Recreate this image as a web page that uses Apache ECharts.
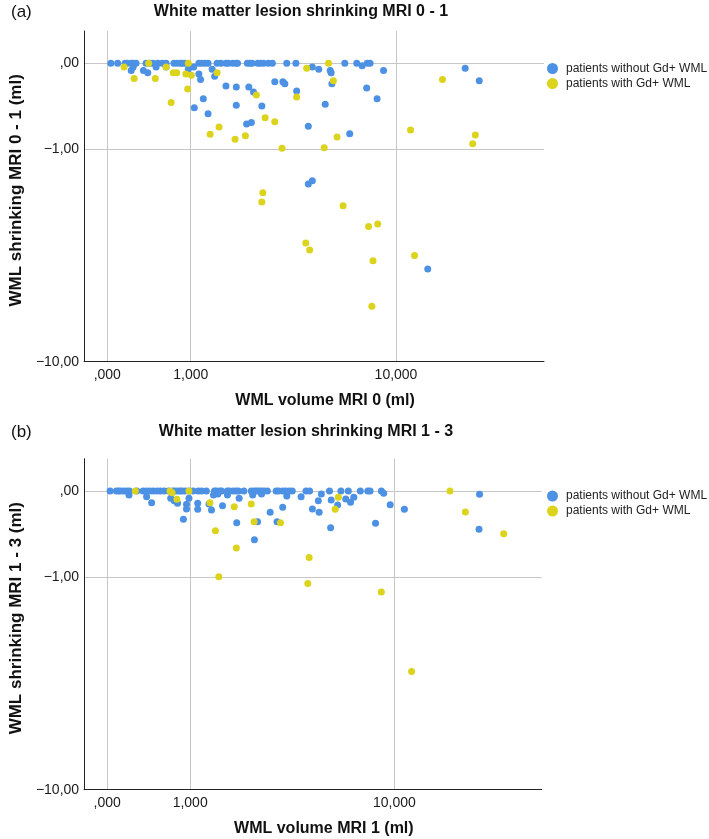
<!DOCTYPE html>
<html><head><meta charset="utf-8">
<script src="https://cdn.jsdelivr.net/npm/echarts@6/dist/echarts.min.js"></script>
<style>html,body{margin:0;padding:0;background:#fff}#c{width:709px;height:839px}</style>
</head><body><div id="c"></div>
<script>
// ---------- data (raw values in ml) ----------
const seriesNames = ['patients without Gd+ WML', 'patients with Gd+ WML'];
const panelLetters = ['(a)', '(b)'];
const panelTitles = ['White matter lesion shrinking MRI 0 - 1', 'White matter lesion shrinking MRI 1 - 3'];
const xAxisNames = ['WML volume MRI 0 (ml)', 'WML volume MRI 1 (ml)'];
const yAxisNames = ['WML shrinking MRI 0 - 1 (ml)', 'WML shrinking MRI 1 - 3 (ml)'];

const xTickValues = [0, 1, 10];
const xTickLabels = [',000', '1,000', '10,000'];
const yTickValues = [0, -1, -10];
const yTickLabels = [',00', '\u22121,00', '\u221210,00'];
const xRange = [-0.212, 36.6];
const yRange = [-10, 0.296];

// panel (a) – patients without Gd+ WML
const aNoGdX = [0.03,0.09,0.16,0.18,0.22,0.24,0.27,0.38,0.42,0.46,0.52,0.58,0.63,0.74,0.79,0.84,0.87,0.91,1.14,1.19,1.25,1.31,1.49,1.57,1.68,1.73,1.83,1.91,1.95,2.20,2.27,2.33,2.49,2.56,2.66,2.81,2.94,3.44,3.79,6.19,6.94,7.66,7.87,
  0.22,0.35,0.40,0.24,0.50,0.63,0.96,1.05,1.14,1.17,1.39,1.44,1.68,1.92,2.24,2.37,3.02,3.30,3.37,3.82,4.49,4.79,5.37,5.42,5.46,1.22,1.06,1.31,1.92,2.61,5.11,2.18,2.31,4.31,6.49,4.31,4.49,7.30,8.92,7.62,8.40,18.54,20.96,13.32];
const aNoGdY = [0,0,0,0,0,0,0,0,0,0,0,0,0,0,0,0,0,0,0,0,0,0,0,0,0,0,0,0,0,0,0,0,0,0,0,0,0,0,0,0,0,0,0,
  -0.06,-0.06,-0.08,-0.03,-0.03,-0.03,-0.05,-0.03,-0.09,-0.14,-0.05,-0.11,-0.20,-0.21,-0.21,-0.26,-0.16,-0.16,-0.18,-0.25,-0.03,-0.05,-0.06,-0.08,-0.18,-0.33,-0.43,-0.50,-0.40,-0.41,-0.39,-0.63,-0.61,-0.66,-0.76,-1.64,-1.57,-0.02,-0.06,-0.22,-0.33,-0.04,-0.15,-4.22];
// panel (a) – patients with Gd+ WML
const aGdX = [0.15,0.25,0.41,0.49,0.63,0.70,0.73,0.78,0.92,0.96,1.01,0.95,1.49,2.45,2.71,3.02,1.53,1.35,1.89,2.15,3.27,3.82,4.24,5.28,5.54,5.06,5.74,2.64,2.61,6.09,15.18,11.41,20.26,19.80,7.76,8.45,4.20,4.37,8.09,11.83,8.00];
const aGdY = [-0.03,-0.13,0,-0.13,-0.03,-0.37,-0.08,-0.08,-0.09,0,-0.10,-0.23,-0.08,-0.29,-0.55,-0.60,-0.67,-0.77,-0.84,-0.79,-0.98,-0.31,-0.04,0,-0.15,-0.97,-0.81,-1.83,-2.05,-2.14,-0.14,-0.71,-0.78,-0.91,-2.71,-2.64,-3.24,-3.48,-3.89,-3.69,-6.05];

// panel (b) – patients without Gd+ WML
const bNoGdX = [0.025,0.08,0.10,0.12,0.15,0.18,0.205,0.28,0.35,0.39,0.43,0.47,0.52,0.56,0.61,0.67,0.73,0.76,0.80,0.84,0.87,0.92,0.98,1.05,1.14,1.20,1.29,1.45,1.49,1.56,1.60,1.73,1.77,1.86,1.93,1.99,2.13,2.33,2.42,2.49,2.55,2.63,2.71,2.81,3.10,3.18,3.33,3.44,3.57,3.69,4.26,4.42,5.40,6.04,6.49,7.28,7.81,7.98,8.87,
  0.20,0.39,0.45,0.70,0.75,0.80,0.89,0.94,0.94,0.98,1.13,1.13,1.34,1.39,1.43,1.52,1.62,1.73,1.95,2.01,2.37,2.42,2.51,2.63,2.90,3.13,3.33,3.48,4.05,4.55,4.83,4.87,4.98,5.46,5.49,5.85,6.33,6.63,6.84,9.06,9.62,10.96,8.40,21.4,21.3];
const bNoGdY = [0,0,0,0,0,0,0,0,0,0,0,0,0,0,0,0,0,0,0,0,0,0,0,0,0,0,0,0,0,0,0,0,0,0,0,0,0,0,0,0,0,0,0,0,0,0,0,0,0,0,0,0,0,0,0,0,0,0,0,
  -0.033,-0.047,-0.099,-0.06,-0.081,-0.104,-0.255,-0.113,-0.156,-0.06,-0.104,-0.158,-0.11,-0.164,-0.033,-0.024,-0.125,-0.033,-0.29,-0.06,-0.033,-0.48,-0.28,-0.024,-0.186,-0.28,-0.14,-0.041,-0.047,-0.156,-0.081,-0.186,-0.024,-0.343,-0.075,-0.12,-0.066,-0.095,-0.052,-0.019,-0.117,-0.158,-0.296,-0.027,-0.36];
// panel (b) – patients with Gd+ WML
const bGdX = [0.265,0.69,0.72,0.79,0.98,1.36,1.47,1.54,1.89,1.94,2.33,2.41,3.25,4.40,4.34,5.71,5.89,16.5,18.9,26.4,8.87,11.7];
const bGdY = [0,0,-0.014,-0.069,0,-0.099,-0.376,-0.99,-0.134,-0.58,-0.11,-0.28,-0.29,-0.705,-1.10,-0.158,-0.052,0,-0.184,-0.41,-1.25,-3.26];

// ---------- helpers ----------
// "safe log" scale: sign(v) * log10(1 + |v|)
function slog(v) { return Math.sign(v) * Math.log10(1 + Math.abs(v)); }
function pairs(xs, ys) { return xs.map((x, i) => [slog(x), slog(ys[i])]); }
function tickFormatter(values, labels) {
  return function (v) {
    for (let i = 0; i < values.length; i++) if (Math.abs(slog(values[i]) - v) < 1e-6) return labels[i];
    return '';
  };
}

const colors = ['#4C91E3', '#DCD31C'];
const font = 'Liberation Sans, Arial, sans-serif';
const grids = [
  { left: 73, top: 31, width: 471, height: 330.7 },
  { left: 70.6, top: 458.7, width: 471, height: 331 }
];

const xAxes = [0, 1].map(i => ({
  type: 'value', gridIndex: i,
  min: slog(xRange[0]), max: slog(xRange[1]),
  axisLine: { show: true, onZero: false, lineStyle: { color: '#222', width: 1 } },
  axisTick: { show: false, customValues: xTickValues.map(slog) },
  axisLabel: { customValues: xTickValues.map(slog), formatter: tickFormatter(xTickValues, xTickLabels),
    fontSize: 14, color: '#1a1a1a', margin: 6, fontFamily: font },
  splitLine: { show: true, lineStyle: { color: '#c6c6c6', width: 1 } },
  name: xAxisNames[i], nameLocation: 'middle', nameGap: 31,
  nameTextStyle: { fontWeight: 'bold', fontSize: 16, color: '#111', fontFamily: font, padding: [0, 0, 0, 22] }
}));
const yAxes = [0, 1].map(i => ({
  type: 'value', gridIndex: i,
  min: slog(yRange[0]), max: slog(yRange[1]),
  axisLine: { show: true, onZero: false, lineStyle: { color: '#222', width: 1 } },
  axisTick: { show: false, customValues: yTickValues.map(slog) },
  axisLabel: { customValues: yTickValues.map(slog), formatter: tickFormatter(yTickValues, yTickLabels),
    fontSize: 14, color: '#1a1a1a', margin: 5, fontFamily: font },
  splitLine: { show: true, lineStyle: { color: '#c6c6c6', width: 1 } },
  name: yAxisNames[i], nameLocation: 'middle', nameGap: 46,
  nameTextStyle: { fontWeight: 'bold', fontSize: 17, color: '#111', fontFamily: font, padding: [0, 0, 0, 12] }
}));

const panelData = [
  [pairs(aNoGdX, aNoGdY), pairs(aGdX, aGdY)],
  [pairs(bNoGdX, bNoGdY), pairs(bGdX, bGdY)]
];
const series = [];
[0, 1].forEach(p => {
  [0, 1].forEach(s => {
    series.push({
      type: 'scatter', name: seriesNames[s], xAxisIndex: p, yAxisIndex: p,
      data: panelData[p][s], symbol: 'circle', symbolSize: 7,
      itemStyle: { color: colors[s], opacity: 1 }, silent: true, z: 3 + s
    });
  });
});

const legendTops = [57.5, 485];
const legends = legendTops.map(t => ({
  data: seriesNames, left: 542, top: t, orient: 'vertical',
  icon: 'circle', itemWidth: 17, itemHeight: 11, itemGap: 3,
  textStyle: { fontSize: 12, color: '#222', fontFamily: font }
}));

const letterPos = [[11, 12], [11, 432]];
const titlePos = [[301, 12], [306, 432]];
const graphic = [];
[0, 1].forEach(i => {
  graphic.push({ type: 'text', x: letterPos[i][0], y: letterPos[i][1],
    style: { text: panelLetters[i], font: '17px ' + font, fill: '#111', textVerticalAlign: 'middle' } });
  graphic.push({ type: 'text', x: titlePos[i][0], y: titlePos[i][1],
    style: { text: panelTitles[i], font: 'bold 16px ' + font, fill: '#111', textAlign: 'center', textVerticalAlign: 'middle' } });
});

const chart = echarts.init(document.getElementById('c'), null, { renderer: 'canvas' });
chart.setOption({
  animation: false,
  backgroundColor: '#fff',
  grid: grids,
  xAxis: xAxes,
  yAxis: yAxes,
  legend: legends,
  graphic: graphic,
  series: series
});
</script>
</body></html>
